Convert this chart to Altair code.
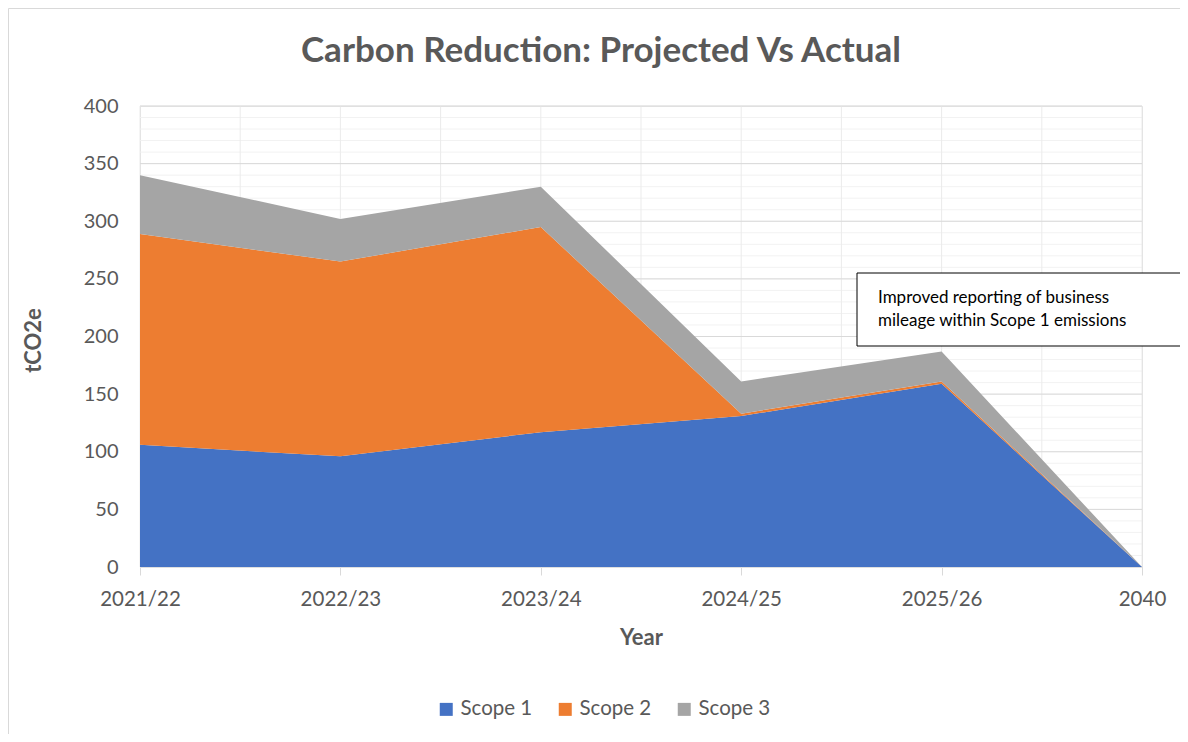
import json
import altair as alt
import pandas as pd

years = ["2021/22", "2022/23", "2023/24", "2024/25", "2025/26", "2040"]
scope1 = [106, 96, 117, 131, 159, 0]
scope2 = [183, 169, 178, 2, 2, 0]
scope3 = [51, 37, 35, 28, 26, 0]
series = ["Scope 1", "Scope 2", "Scope 3"]
colors = ["#4472C4", "#ED7D31", "#A5A5A5"]
y_ticks = [0, 50, 100, 150, 200, 250, 300, 350, 400]
minor_ticks = list(range(0, 401, 10))
v_grid = [0, 0.5, 1, 1.5, 2, 2.5, 3, 3.5, 4, 4.5, 5]
title_text = "Carbon Reduction: Projected Vs Actual"
note_lines = ["Improved reporting of business", "mileage within Scope 1 emissions"]

FONT = "Lato"
TXT = "#595959"

rows = []
for i, yr in enumerate(years):
    for k, (name, vals) in enumerate(zip(series, [scope1, scope2, scope3])):
        rows.append({"idx": i, "year": yr, "series": name, "ord": k, "value": vals[i]})
df = pd.DataFrame(rows)

xs = alt.Scale(domain=[0, len(years) - 1], nice=False, zero=False)
ys = alt.Scale(domain=[0, 400], nice=False)

label_expr = json.dumps(years) + "[datum.value]"
x_axis = alt.Axis(values=list(range(len(years))), labelExpr=label_expr,
                  grid=False, domainColor="#D9D9D9", tickColor="#D9D9D9",
                  tickSize=8, labelFontSize=20.5, labelColor=TXT, labelFont=FONT,
                  labelPadding=14, labelFlush=False, labelOverlap=False, labelBound=False,
                  titleFontSize=22, titleFontWeight="bold", titleColor=TXT, titleFont=FONT,
                  titleX=501, titleY=70, titleBaseline="middle")
y_axis = alt.Axis(values=y_ticks, grid=False, domain=False, ticks=False,
                  labelPadding=22, labelFontSize=20, labelColor=TXT, labelFont=FONT,
                  titleFontSize=22, titleFontWeight="bold", titleColor=TXT, titleFont=FONT,
                  titleX=-107, titleY=234, titleBaseline="middle", titleAlign="center")

minor = alt.Chart(pd.DataFrame({"v": minor_ticks})).mark_rule(
    color="#F2F2F2", strokeWidth=1
).encode(y=alt.Y("v:Q", scale=ys, axis=y_axis, title="tCO2e"))

vert = alt.Chart(pd.DataFrame({"v": v_grid})).mark_rule(
    color="#EBEBEB", strokeWidth=1
).encode(x=alt.X("v:Q", scale=xs, axis=x_axis, title="Year"))

major = alt.Chart(pd.DataFrame({"v": y_ticks})).mark_rule(
    color="#D9D9D9", strokeWidth=1
).encode(y=alt.Y("v:Q", scale=ys, axis=y_axis, title="tCO2e"))

area = alt.Chart(df).transform_stack(
    stack="value", groupby=["idx"], as_=["y0", "y1"],
    sort=[alt.SortField("ord", order="ascending")]
).mark_area(opacity=1).encode(
    x=alt.X("idx:Q", scale=xs, title="Year", axis=x_axis),
    y=alt.Y("y1:Q", scale=ys, title="tCO2e", axis=y_axis),
    y2="y0:Q",
    color=alt.Color("series:N", scale=alt.Scale(domain=series, range=colors),
                    legend=alt.Legend(orient="none", legendX=296, legendY=593,
                                      direction="horizontal", title=None,
                                      symbolType="square", symbolSize=169, symbolStrokeWidth=0,
                                      labelFontSize=20.5, labelColor=TXT, labelFont=FONT,
                                      columnPadding=22, labelOffset=4)),
)

one = pd.DataFrame({"t": [title_text]})
title = alt.Chart(one).mark_text(
    font=FONT, fontSize=35, fontWeight="bold", color=TXT, align="center", baseline="middle"
).encode(text="t:N", x=alt.value(461), y=alt.value(-55))

box = alt.Chart(one).mark_rect(fill="white", stroke="black", strokeWidth=1).encode(
    x=alt.value(717), x2=alt.value(1060), y=alt.value(167), y2=alt.value(240)
)
note = alt.Chart(one).mark_text(
    font=FONT, fontSize=17, color="black", align="left", baseline="middle",
    text=note_lines, lineHeight=23
).encode(x=alt.value(738), y=alt.value(192))

border = alt.Chart(one).mark_rect(fill=None, stroke="#D9D9D9", strokeWidth=1).encode(
    x=alt.value(-131.5), x2=alt.value(1100), y=alt.value(-97.5), y2=alt.value(640)
)

chart = alt.layer(border, minor, vert, major, area, box, note, title).properties(
    width=1002, height=461,
    padding={"left": 132, "top": 98, "right": 38, "bottom": 167},
    autosize=alt.AutoSizeParams(type="none"),
).configure_view(stroke=None).configure(font=FONT)

chart.save("out.html", embed_options={"renderer": "svg", "actions": False})
